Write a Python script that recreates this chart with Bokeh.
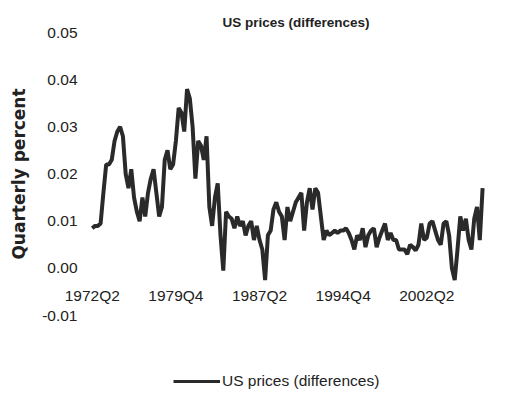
from bokeh.plotting import figure
from bokeh.layouts import column
from bokeh.models import (Range1d, FixedTicker, PrintfTickFormatter, Legend, LegendItem,
                          ColumnDataSource, LinearAxis)
from bokeh.embed import file_html
from bokeh.resources import INLINE

series_name = "US prices (differences)"
start_year = 1972
start_quarter = 2
values = [
    0.0085, 0.009, 0.009, 0.0095, 0.016, 0.022, 0.022, 0.023, 0.027, 0.029,
    0.030, 0.028, 0.020, 0.017, 0.021, 0.015, 0.012, 0.010, 0.015, 0.011,
    0.016, 0.019, 0.021, 0.016, 0.011, 0.013, 0.023, 0.025, 0.021, 0.022,
    0.027, 0.034, 0.033, 0.029, 0.038, 0.036, 0.030, 0.019, 0.027, 0.026,
    0.023, 0.028, 0.013, 0.009, 0.015, 0.018, 0.007, -0.0005, 0.012, 0.011,
    0.0105, 0.0085, 0.011, 0.009, 0.010, 0.007, 0.009, 0.010, 0.006, 0.009,
    0.006, 0.004, -0.0025, 0.007, 0.008, 0.0125, 0.014, 0.012, 0.011, 0.006,
    0.013, 0.010, 0.012, 0.014, 0.015, 0.016, 0.008, 0.014, 0.017, 0.0125,
    0.017, 0.016, 0.011, 0.006, 0.008, 0.007, 0.0075, 0.008, 0.0075, 0.008,
    0.008, 0.0085, 0.0075, 0.006, 0.004, 0.007, 0.006, 0.0085, 0.0045, 0.007,
    0.008, 0.0085, 0.0045, 0.0065, 0.008, 0.0095, 0.006, 0.0075, 0.006, 0.006,
    0.004, 0.004, 0.004, 0.003, 0.005, 0.0045, 0.0038, 0.005, 0.0095, 0.006,
    0.0065, 0.0095, 0.010, 0.008, 0.006, 0.005, 0.0095, 0.010, 0.007, 0.000,
    -0.0025, 0.004, 0.011, 0.008, 0.0105, 0.006, 0.004, 0.0105, 0.013, 0.006,
    0.017,
]
tick_labels = ["1972Q2", "1979Q4", "1987Q2", "1994Q4", "2002Q2"]
y_ticks = [-0.01, 0.0, 0.01, 0.02, 0.03, 0.04, 0.05]

quarters = []
yr, qt = start_year, start_quarter
for _ in values:
    quarters.append(f"{yr}Q{qt}")
    qt += 1
    if qt > 4:
        qt = 1
        yr += 1

idx = list(range(len(values)))
src = ColumnDataSource(dict(x=idx, y=values, q=quarters))
tick_pos = [quarters.index(t) for t in tick_labels]

LINE_COLOR = "#2a2a2a"
TEXT_COLOR = "#222222"

p = figure(
    width=497, height=360,
    x_range=Range1d(-12.1, 141.4), y_range=Range1d(-0.01, 0.05),
    output_backend="svg", toolbar_location=None, x_axis_location=None,
    min_border_left=58, min_border_right=11, min_border_top=32, min_border_bottom=45,
)
p.background_fill_color = "white"
p.border_fill_color = "white"
p.outline_line_color = None
p.grid.visible = False

p.title.text = "US prices (differences)"
p.title.align = "left"
p.title.offset = 164
p.title.text_font = "Liberation Sans"
p.title.text_font_style = "bold"
p.title.text_font_size = "13.5px"
p.title.text_color = TEXT_COLOR
p.title.standoff = 5

r = p.line("x", "y", source=src, line_color=LINE_COLOR, line_width=4)

ya = p.yaxis[0]
ya.ticker = FixedTicker(ticks=y_ticks)
ya.formatter = PrintfTickFormatter(format="%.2f")
ya.axis_line_color = None
ya.major_tick_line_color = None
ya.minor_tick_line_color = None
ya.major_tick_out = 0
ya.major_tick_in = 0
ya.major_label_text_font = "Liberation Sans"
ya.major_label_text_font_size = "15.5px"
ya.major_label_text_color = TEXT_COLOR
ya.major_label_standoff = -19
ya.axis_label = "Quarterly percent"
ya.axis_label_text_font = "DejaVu Sans"
ya.axis_label_text_font_style = "bold"
ya.axis_label_text_font_size = "17px"
ya.axis_label_text_color = TEXT_COLOR
ya.axis_label_standoff = 10

xa = LinearAxis(fixed_location=0)
xa.ticker = FixedTicker(ticks=tick_pos)
xa.major_label_overrides = {pos: lab for pos, lab in zip(tick_pos, tick_labels)}
xa.axis_line_color = None
xa.major_tick_line_color = None
xa.minor_tick_line_color = None
xa.major_tick_out = 0
xa.major_tick_in = 0
xa.major_label_text_font = "Liberation Sans"
xa.major_label_text_font_size = "15.5px"
xa.major_label_text_color = TEXT_COLOR
xa.major_label_standoff = 19
p.add_layout(xa, "below")

# legend strip under the chart; its key line uses the series data, kept out of view
lf = figure(
    width=497, height=40, x_range=Range1d(0, 1), y_range=Range1d(1, 2),
    output_backend="svg", toolbar_location=None,
    x_axis_location=None, y_axis_location=None,
    min_border_left=0, min_border_right=0, min_border_top=0, min_border_bottom=0,
)
lf.outline_line_color = None
lf.grid.visible = False
lf.background_fill_color = "white"
lf.border_fill_color = "white"
key = lf.line("x", "y", source=src, line_color=LINE_COLOR, line_width=3)
legend = Legend(
    items=[LegendItem(label=series_name, renderers=[key])],
    location=(115, 10), orientation="horizontal",
    border_line_color=None, background_fill_alpha=0,
    glyph_width=47, glyph_height=16, label_standoff=2,
    label_text_font="Liberation Sans", label_text_font_size="15.5px",
    label_text_color=TEXT_COLOR, margin=0, padding=4,
)
lf.add_layout(legend, "center")

layout = column(p, lf, spacing=0)
open("out.html", "w").write(file_html(layout, INLINE))
